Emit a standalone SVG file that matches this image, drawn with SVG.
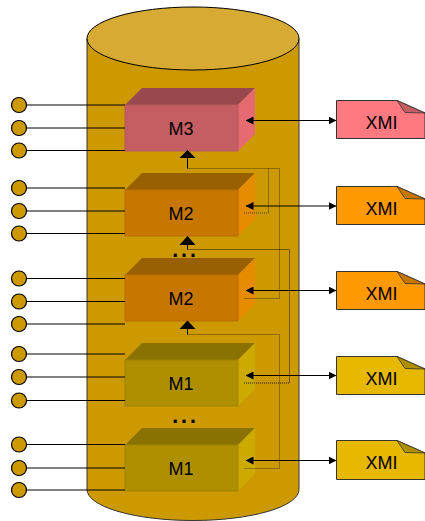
<svg xmlns="http://www.w3.org/2000/svg" width="425" height="521" viewBox="0 0 425 521">
<style>
text{font-family:"Liberation Sans",Arial,sans-serif;fill:#000;text-anchor:middle}
.lbl{font-size:18px}
.dots{font-size:32px}
.cyl{fill:#cc9900;stroke:#333;stroke-width:1}
.port{fill:#cc9900;stroke:#000;stroke-width:1.2}
.line{stroke:#000;stroke-width:1;fill:none}
.dot{stroke:#000;stroke-width:1;stroke-dasharray:1 1;fill:none;opacity:.6}
.dot2{opacity:.85}
.doc{stroke:#333;stroke-width:1}
.fold{stroke:#333;stroke-width:.8}
.red .f{fill:#c45e62;stroke:#b8585c}.red .t{fill:#99494d}.red .s{fill:#e56b70}
.ora .f{fill:#c77700;stroke:#b86e00}.ora .t{fill:#996000}.ora .s{fill:#e68a00}
.yel .f{fill:#ad8f00;stroke:#a08400}.yel .t{fill:#8a7200}.yel .s{fill:#ccaa00}
</style>
<defs>
<marker id="a" markerWidth="8" markerHeight="8" refX="7.5" refY="4" orient="auto-start-reverse" markerUnits="userSpaceOnUse"><path d="M0 0L8 4L0 8Z" fill="#000"/></marker>
</defs>
<g id="cylinder">
<path class="cyl" d="M87 38.500V489.500A106 31 0 0 0 299 489.500V38.500Z"/>
<ellipse cx="193" cy="38.500" rx="106" ry="31.500" fill="#d6aa33" stroke="#000"/>
</g>
<g id="m3" class="red"><path class="t" d="M125 105L142 88H255L238 105Z"/><path class="s" d="M238 105L255 88V134L238 151Z"/><rect class="f" x="125" y="105" width="113" height="46"/><text class="lbl" x="181" y="135">M3</text></g>
<g id="m2a" class="ora"><path class="t" d="M125 190L142 173H255L238 190Z"/><path class="s" d="M238 190L255 173V219L238 236Z"/><rect class="f" x="125" y="190" width="113" height="46"/><text class="lbl" x="181" y="220">M2</text></g>
<g id="m2b" class="ora"><path class="t" d="M125 275L142 258H255L238 275Z"/><path class="s" d="M238 275L255 258V304L238 321Z"/><rect class="f" x="125" y="275" width="113" height="46"/><text class="lbl" x="181" y="305">M2</text></g>
<g id="m1a" class="yel"><path class="t" d="M125 360L142 343H255L238 360Z"/><path class="s" d="M238 360L255 343V389L238 406Z"/><rect class="f" x="125" y="360" width="113" height="46"/><text class="lbl" x="181" y="390">M1</text></g>
<g id="m1b" class="yel"><path class="t" d="M125 445L142 428H255L238 445Z"/><path class="s" d="M238 445L255 428V474L238 491Z"/><rect class="f" x="125" y="445" width="113" height="46"/><text class="lbl" x="181" y="475">M1</text></g>
<g id="connectors">
<path class="line" d="M26 105H125M26 128H125M26 150.500H125M26 188H125M26 211H125M26 233.500H125M26 278.500H125M26 301.500H125M26 324H125M26 354H125M26 377H125M26 400.500H125M26 444.500H125M26 468H125M26 490H125"/>
<path class="line" marker-start="url(#a)" marker-end="url(#a)" d="M246 120.500H336"/>
<path class="line" marker-start="url(#a)" marker-end="url(#a)" d="M246 206H336"/>
<path class="line" marker-start="url(#a)" marker-end="url(#a)" d="M246 290.500H336"/>
<path class="line" marker-start="url(#a)" marker-end="url(#a)" d="M246 375.500H336"/>
<path class="line" marker-start="url(#a)" marker-end="url(#a)" d="M246 460.500H336"/>
<path class="line" d="M187.500 156V168.500M187.500 243V249.500M187.500 327V334.500"/>
<path d="M187.500 150L195.500 158H179.500ZM187.500 236L195.500 245H179.500ZM187.500 320.500L195.500 329H179.500Z" fill="#000"/>
<path class="dot" d="M187.500 168.500H279.500V298.500H244M268.500 168.500V213H244"/>
<path class="dot dot2" d="M187.500 249.500H289.500V383H244"/>
<path class="dot" d="M187.500 334.500H279.500V468.500H244"/>
</g>
<g id="ellipsis-1"><text class="dots" x="184" y="257">...</text></g>
<g id="ellipsis-2"><text class="dots" x="184" y="423">...</text></g>
<g id="ports-all">
<circle class="port" cx="19" cy="105" r="7.5"/><circle class="port" cx="19" cy="128" r="7.5"/><circle class="port" cx="19" cy="150.500" r="7.5"/>
<circle class="port" cx="19" cy="188" r="7.5"/><circle class="port" cx="19" cy="211" r="7.5"/><circle class="port" cx="19" cy="233.500" r="7.5"/>
<circle class="port" cx="19" cy="278.500" r="7.5"/><circle class="port" cx="19" cy="301.500" r="7.5"/><circle class="port" cx="19" cy="324" r="7.5"/>
<circle class="port" cx="19" cy="354" r="7.5"/><circle class="port" cx="19" cy="377" r="7.5"/><circle class="port" cx="19" cy="400.500" r="7.5"/>
<circle class="port" cx="19" cy="444.500" r="7.5"/><circle class="port" cx="19" cy="468" r="7.5"/><circle class="port" cx="19" cy="490" r="7.5"/>
</g>
<g id="xmi-m3"><path class="doc" fill="#ff7a80" d="M336.500 100.500H397L425 113V138.500H336.500Z"/><path class="fold" fill="#c45e62" d="M397 100.500L405 112.500L425 113Z"/><text class="lbl" x="381.500" y="129">XMI</text></g>
<g id="xmi-m2a"><path class="doc" fill="#ff9900" d="M336.500 186.500H397L425 199V224.500H336.500Z"/><path class="fold" fill="#c77700" d="M397 186.500L405 198.500L425 199Z"/><text class="lbl" x="381.500" y="215">XMI</text></g>
<g id="xmi-m2b"><path class="doc" fill="#ff9900" d="M336.500 271.500H397L425 284V309.500H336.500Z"/><path class="fold" fill="#c77700" d="M397 271.500L405 283.500L425 284Z"/><text class="lbl" x="381.500" y="300">XMI</text></g>
<g id="xmi-m1a"><path class="doc" fill="#e6b800" d="M336.500 356.500H397L425 369V394.500H336.500Z"/><path class="fold" fill="#ad8f00" d="M397 356.500L405 368.500L425 369Z"/><text class="lbl" x="381.500" y="385">XMI</text></g>
<g id="xmi-m1b"><path class="doc" fill="#e6b800" d="M336.500 440.500H397L425 453V479.500H336.500Z"/><path class="fold" fill="#ad8f00" d="M397 440.500L405 452.500L425 453Z"/><text class="lbl" x="381.500" y="469">XMI</text></g>
</svg>
